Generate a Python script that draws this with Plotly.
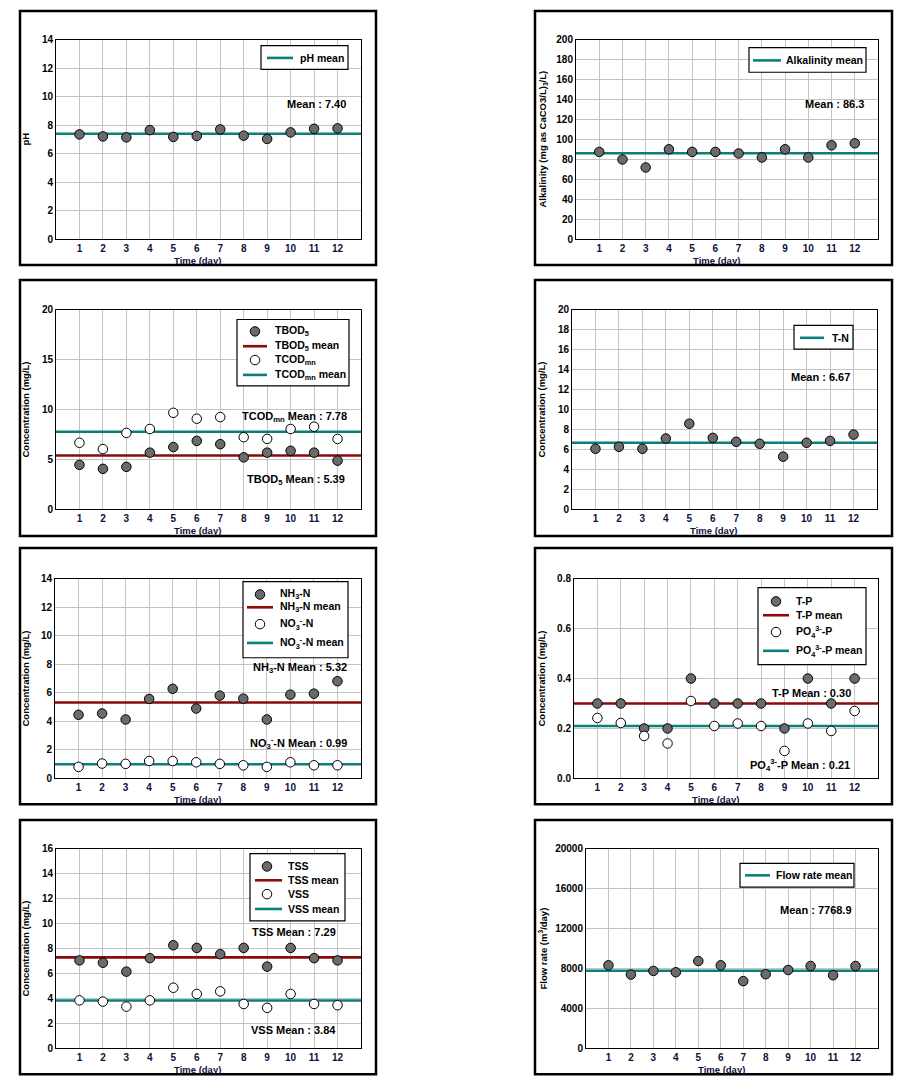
import plotly.graph_objects as go

W, H = 923, 1092

# ---------------- data ----------------
days = list(range(1, 13))

ph = [7.36, 7.22, 7.15, 7.66, 7.18, 7.25, 7.71, 7.27, 7.04, 7.50, 7.75, 7.78]
ph_mean = 7.40

alkalinity = [87.6, 80.0, 72.0, 90.2, 87.6, 87.6, 86.0, 82.0, 90.2, 82.0, 94.2, 96.2]
alk_mean = 86.3

tbod = [4.46, 4.06, 4.26, 5.68, 6.24, 6.86, 6.53, 5.21, 5.68, 5.87, 5.68, 4.88]
tbod_mean = 5.39
tcod = [6.67, 6.04, 7.66, 8.05, 9.67, 9.08, 9.24, 7.23, 7.06, 8.05, 8.28, 7.06]
tcod_mean = 7.78

tn = [6.07, 6.27, 6.07, 7.10, 8.58, 7.16, 6.77, 6.57, 5.28, 6.67, 6.86, 7.49]
tn_mean = 6.67

nh3 = [4.46, 4.55, 4.13, 5.57, 6.28, 4.90, 5.80, 5.59, 4.13, 5.87, 5.94, 6.81]
nh3_mean = 5.32
no3 = [0.81, 1.04, 1.02, 1.22, 1.22, 1.13, 1.02, 0.92, 0.81, 1.13, 0.92, 0.92]
no3_mean = 0.99

tp = [0.30, 0.30, 0.20, 0.20, 0.40, 0.30, 0.30, 0.30, 0.20, 0.40, 0.30, 0.40]
tp_mean = 0.30
po4 = [0.242, 0.222, 0.17, 0.14, 0.31, 0.21, 0.22, 0.21, 0.11, 0.22, 0.19, 0.27]
po4_mean = 0.21

tss = [7.05, 6.86, 6.15, 7.23, 8.26, 8.05, 7.55, 8.05, 6.55, 8.05, 7.23, 7.05]
tss_mean = 7.29
vss = [3.85, 3.75, 3.35, 3.85, 4.86, 4.36, 4.57, 3.56, 3.25, 4.36, 3.56, 3.46]
vss_mean = 3.84

flow = [8317, 7393, 7756, 7624, 8746, 8317, 6733, 7426, 7855, 8251, 7327, 8251]
flow_mean = 7768.9

# ---------------- styling ----------------
TEAL = "#0b7f7a"
RED = "#8b0a0a"
GRAY = "#6b6b6b"
FONT = "Arial, Liberation Sans, sans-serif"
MSIZE = 9.5


def px_x(v):
    return v / W


def px_y(v):
    return 1 - v / H


fig = go.Figure()

# panel layout: plot area (left, right, top, bottom) in px, frame (l, r, t, b)
panels = [
    dict(pa=(56, 361, 34, 236), fr=(20, 376, 5, 262), ymax=14, dtick=2, fmt="d"),
    dict(pa=(576, 878, 34, 236), fr=(535, 892, 5, 262), ymax=200, dtick=20, fmt="d"),
    dict(pa=(56, 361, 307, 509), fr=(20, 376, 277, 536), ymax=20, dtick=5, fmt="d"),
    dict(pa=(572, 877, 307, 509), fr=(535, 892, 277, 536), ymax=20, dtick=2, fmt="d"),
    dict(pa=(55, 361, 579, 781), fr=(20, 376, 548, 807), ymax=14, dtick=2, fmt="d"),
    dict(pa=(574, 878, 579, 781), fr=(535, 892, 548, 807), ymax=0.8, dtick=0.2, fmt=".1f"),
    dict(pa=(56, 361, 852, 1054), fr=(20, 376, 823, 1080), ymax=16, dtick=2, fmt="d"),
    dict(pa=(586, 878, 852, 1054), fr=(535, 892, 823, 1080), ymax=20000, dtick=4000, fmt="d"),
]

ytitles = [
    ("pH", 26),
    ("Alkalinity (mg as CaCO3/L)<sub>3</sub>/L)", 543),
    ("Concentration (mg/L)", 26),
    ("Concentration (mg/L)", 542),
    ("Concentration (mg/L)", 26),
    ("Concentration (mg/L)", 542),
    ("Concentration (mg/L)", 26),
    ("Flow rate (m<sup>3</sup>/day)", 543),
]

layout = dict(
    width=W, height=H, margin=dict(l=0, r=0, t=0, b=0),
    paper_bgcolor="white", plot_bgcolor="white",
    font=dict(family=FONT, color="black"),
    showlegend=False,
)
shapes = []
annotations = []

for i, p in enumerate(panels, start=1):
    l, r, t, b = p["pa"]
    xa = "xaxis" if i == 1 else f"xaxis{i}"
    ya = "yaxis" if i == 1 else f"yaxis{i}"
    xr = "x" if i == 1 else f"x{i}"
    yr = "y" if i == 1 else f"y{i}"
    layout[xa] = dict(
        domain=[px_x(l), px_x(r)], anchor=yr, range=[0, 13],
        tickvals=days, showgrid=True, gridcolor="#c4c4c4", gridwidth=1,
        showline=True, linecolor="black", linewidth=1, mirror=True,
        zeroline=False, ticks="",
        tickfont=dict(size=10, weight="bold", color="#10103a", family=FONT),
    )
    layout[ya] = dict(
        domain=[px_y(b), px_y(t)], anchor=xr, range=[0, p["ymax"]],
        dtick=p["dtick"], tick0=0, tickformat=p["fmt"],
        showgrid=True, gridcolor="#c4c4c4", gridwidth=1,
        showline=True, linecolor="black", linewidth=1, mirror=True,
        zeroline=False, ticks="",
        tickfont=dict(size=10, weight="bold", color="black", family=FONT),
    )
    fl, frr, ft, fb = p["fr"]
    shapes.append(dict(type="rect", xref="paper", yref="paper",
                       x0=px_x(fl), x1=px_x(frr), y0=px_y(fb), y1=px_y(ft),
                       line=dict(color="black", width=2.5), layer="above"))
    txt, tx = ytitles[i - 1]
    annotations.append(dict(text=f"<b>{txt}</b>", xref="paper", yref="paper",
                            x=px_x(tx), y=px_y((t + b) / 2), textangle=-90,
                            showarrow=False, xanchor="center", yanchor="middle",
                            font=dict(size=9.5, family=FONT, color="black")))
    annotations.append(dict(text="<b>Time (day)</b>", xref="paper", yref="paper",
                            x=px_x((l + r) / 2 - 11), y=px_y(b + 21),
                            showarrow=False, xanchor="center", yanchor="middle",
                            font=dict(size=9.5, family=FONT, color="#10103a")))


def ax(i):
    return ("x", "y") if i == 1 else (f"x{i}", f"y{i}")


def mean_line(i, val, name, color):
    xr, yr = ax(i)
    fig.add_trace(go.Scatter(
        x=[0, 13], y=[val, val], mode="lines", name=name,
        line=dict(color=color, width=2.6), xaxis=xr, yaxis=yr, hoverinfo="skip"))


def points(i, vals, name, fill):
    xr, yr = ax(i)
    fig.add_trace(go.Scatter(
        x=days, y=vals, mode="markers", name=name,
        marker=dict(size=MSIZE, color=fill, line=dict(color="black", width=1)),
        xaxis=xr, yaxis=yr))


mean_line(1, ph_mean, "pH mean", TEAL)
points(1, ph, "pH", GRAY)
mean_line(2, alk_mean, "Alkalinity mean", TEAL)
points(2, alkalinity, "Alkalinity", GRAY)
mean_line(3, tbod_mean, "TBOD5 mean", RED)
mean_line(3, tcod_mean, "TCODmn mean", TEAL)
points(3, tbod, "TBOD5", GRAY)
points(3, tcod, "TCODmn", "white")
mean_line(4, tn_mean, "T-N", TEAL)
points(4, tn, "T-N", GRAY)
mean_line(5, nh3_mean, "NH3-N mean", RED)
mean_line(5, no3_mean, "NO3-N mean", TEAL)
points(5, nh3, "NH3-N", GRAY)
points(5, no3, "NO3-N", "white")
mean_line(6, tp_mean, "T-P mean", RED)
mean_line(6, po4_mean, "PO4-P mean", TEAL)
points(6, tp, "T-P", GRAY)
points(6, po4, "PO4-P", "white")
mean_line(7, tss_mean, "TSS mean", RED)
mean_line(7, vss_mean, "VSS mean", TEAL)
points(7, tss, "TSS", GRAY)
points(7, vss, "VSS", "white")
mean_line(8, flow_mean, "Flow rate mean", TEAL)
points(8, flow, "Flow rate", GRAY)

# ---------------- legends (drawn as boxes) ----------------
# box (l, r, t, b), symbol centre x, line x-extent, text x, entries (y, kind, colour, label)
legends = [
    dict(box=(261, 348, 40, 64), mx=280, lx=(267, 293), tx=298,
         items=[(52.5, "line", TEAL, "pH mean")]),
    dict(box=(749, 866, 42, 67), mx=767, lx=(753, 781), tx=784,
         items=[(55, "line", TEAL, "Alkalinity mean")]),
    dict(box=(237, 349, 317, 384), mx=255, lx=(243, 267), tx=273,
         items=[(329, "mark", GRAY, "TBOD<sub>5</sub>"),
                (344, "line", RED, "TBOD<sub>5</sub> mean"),
                (358, "mark", "white", "TCOD<sub>mn</sub>"),
                (373, "line", TEAL, "TCOD<sub>mn</sub> mean")]),
    dict(box=(794, 853, 323, 347), mx=812, lx=(800, 824), tx=830,
         items=[(335.5, "line", TEAL, "T-N")]),
    dict(box=(243, 348, 582, 659), mx=260, lx=(247, 273), tx=278,
         items=[(595, "mark", GRAY, "NH<sub>3</sub>-N"),
                (608, "line", RED, "NH<sub>3</sub>-N mean"),
                (625, "mark", "white", "NO<sub>3</sub><sup>-</sup>-N"),
                (644, "line", TEAL, "NO<sub>3</sub><sup>-</sup>-N mean")]),
    dict(box=(758, 866, 588, 666), mx=776, lx=(763, 789), tx=794,
         items=[(602, "mark", GRAY, "T-P"),
                (616, "line", RED, "T-P mean"),
                (633, "mark", "white", "PO<sub>4</sub><sup>3-</sup>-P"),
                (652, "line", TEAL, "PO<sub>4</sub><sup>3-</sup>-P mean")]),
    dict(box=(250, 345, 857, 925), mx=267, lx=(255, 282), tx=286,
         items=[(870, "mark", GRAY, "TSS"),
                (884, "line", RED, "TSS mean"),
                (898, "mark", "white", "VSS"),
                (913, "line", TEAL, "VSS mean")]),
    dict(box=(740, 854, 867, 891), mx=757, lx=(745, 770), tx=774,
         items=[(879, "line", TEAL, "Flow rate mean")]),
]

for lg in legends:
    bl, br, bt, bb = lg["box"]
    shapes.append(dict(type="rect", xref="paper", yref="paper",
                       x0=px_x(bl), x1=px_x(br), y0=px_y(bb), y1=px_y(bt),
                       line=dict(color="black", width=1.2), fillcolor="white",
                       layer="above"))
    for (cy, kind, color, label) in lg["items"]:
        if kind == "line":
            shapes.append(dict(type="line", xref="paper", yref="paper",
                               x0=px_x(lg["lx"][0]), x1=px_x(lg["lx"][1]),
                               y0=px_y(cy), y1=px_y(cy),
                               line=dict(color=color, width=2.6), layer="above"))
        else:
            rr = MSIZE / 2
            shapes.append(dict(type="circle", xref="paper", yref="paper",
                               xsizemode="pixel", ysizemode="pixel",
                               xanchor=px_x(lg["mx"]), yanchor=px_y(cy),
                               x0=-rr, x1=rr, y0=-rr, y1=rr,
                               fillcolor=color, line=dict(color="black", width=1),
                               layer="above"))
        annotations.append(dict(text=f"<b>{label}</b>", xref="paper", yref="paper",
                                x=px_x(lg["tx"]), y=px_y(cy), showarrow=False,
                                xanchor="left", yanchor="middle",
                                font=dict(size=10.5, family=FONT, color="black")))

# mean text annotations: (text, right px, centre y px)
notes = [
    (f"Mean : {ph_mean:.2f}", 348, 99),
    (f"Mean : {alk_mean:.1f}", 866, 99),
    (f"TCOD<sub>mn</sub> Mean : {tcod_mean:.2f}", 349, 416),
    (f"TBOD<sub>5</sub> Mean : {tbod_mean:.2f}", 347, 479),
    (f"Mean : {tn_mean:.2f}", 852, 375),
    (f"NH<sub>3</sub>-N Mean : {nh3_mean:.2f}", 349, 669),
    (f"NO<sub>3</sub><sup>-</sup>-N Mean : {no3_mean:.2f}", 349, 745),
    (f"T-P Mean : {tp_mean:.2f}", 853, 695),
    (f"PO<sub>4</sub><sup>3-</sup>-P Mean : {po4_mean:.2f}", 852, 767),
    (f"TSS Mean : {tss_mean:.2f}", 338, 936),
    (f"VSS Mean : {vss_mean:.2f}", 338, 1035),
    (f"Mean : {flow_mean:.1f}", 854, 914),
]
for txt, rx, cy in notes:
    annotations.append(dict(text=f"<b>{txt}</b>", xref="paper", yref="paper",
                            x=px_x(rx), y=px_y(cy), showarrow=False,
                            xanchor="right", yanchor="middle",
                            font=dict(size=11, family=FONT, color="black")))

layout["shapes"] = shapes
layout["annotations"] = annotations
fig.update_layout(**layout)

fig.write_html("out.html")
